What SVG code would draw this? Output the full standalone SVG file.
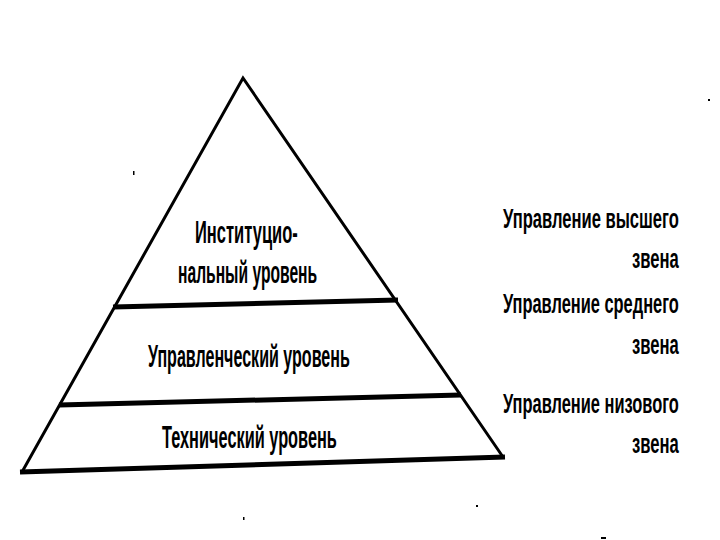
<svg xmlns="http://www.w3.org/2000/svg" width="720" height="540" viewBox="0 0 720 540">
  <style>
    .edge { stroke: #000; stroke-width: 3; fill: none; stroke-linecap: round; }
    .div { stroke: #000; stroke-width: 5; fill: none; }
    .lbl { font-family: "Liberation Sans", "DejaVu Sans", sans-serif; font-weight: bold; font-size: 31px; fill: #000; }
    .side { font-family: "Liberation Sans", "DejaVu Sans", sans-serif; font-weight: bold; font-size: 28px; fill: #000; }
    .speck { fill: #000; }
  </style>
  <rect width="720" height="540" fill="#fff"/>
  <g id="pyramid">
    <polyline class="edge" points="22,472 243,78 503,457"/>
    <line class="div" x1="20" y1="472" x2="505" y2="457"/>
  </g>
  <g id="level-institutional">
    <line class="div" x1="113" y1="307" x2="398" y2="300"/>
    <g transform="translate(195,243) scale(0.55,1)"><text class="lbl" x="0" y="0" textLength="187" lengthAdjust="spacingAndGlyphs">Институцио-</text></g>
    <g transform="translate(178,283) scale(0.55,1)"><text class="lbl" x="0" y="0" textLength="253" lengthAdjust="spacingAndGlyphs">нальный уровень</text></g>
  </g>
  <g id="level-managerial">
    <line class="div" x1="59" y1="405" x2="461" y2="395"/>
    <g transform="translate(148,367) scale(0.55,1)"><text class="lbl" x="0" y="0" textLength="367" lengthAdjust="spacingAndGlyphs">Управленческий уровень</text></g>
  </g>
  <g id="level-technical">
    <g transform="translate(162,448) scale(0.55,1)"><text class="lbl" x="0" y="0" textLength="318" lengthAdjust="spacingAndGlyphs">Технический уровень</text></g>
  </g>
  <g id="label-top">
    <g transform="translate(503,228) scale(0.6,1)"><text class="side" x="0" y="0" textLength="293" lengthAdjust="spacingAndGlyphs">Управление высшего</text></g>
    <g transform="translate(632,268) scale(0.6,1)"><text class="side" x="0" y="0" textLength="78" lengthAdjust="spacingAndGlyphs">звена</text></g>
  </g>
  <g id="label-middle">
    <g transform="translate(503,313) scale(0.6,1)"><text class="side" x="0" y="0" textLength="293" lengthAdjust="spacingAndGlyphs">Управление среднего</text></g>
    <g transform="translate(632,354) scale(0.6,1)"><text class="side" x="0" y="0" textLength="78" lengthAdjust="spacingAndGlyphs">звена</text></g>
  </g>
  <g id="label-low">
    <g transform="translate(503,413) scale(0.6,1)"><text class="side" x="0" y="0" textLength="293" lengthAdjust="spacingAndGlyphs">Управление низового</text></g>
    <g transform="translate(632,453) scale(0.6,1)"><text class="side" x="0" y="0" textLength="78" lengthAdjust="spacingAndGlyphs">звена</text></g>
  </g>
  <g id="connectors"/>
  <g id="specks">
    <rect class="speck" x="133" y="171" width="1.5" height="4"/>
    <rect class="speck" x="708" y="99" width="2" height="2"/>
    <rect class="speck" x="243" y="517" width="1.5" height="3"/>
    <rect class="speck" x="476" y="505" width="2" height="2"/>
    <rect class="speck" x="601" y="537" width="5" height="2"/>
  </g>
</svg>
